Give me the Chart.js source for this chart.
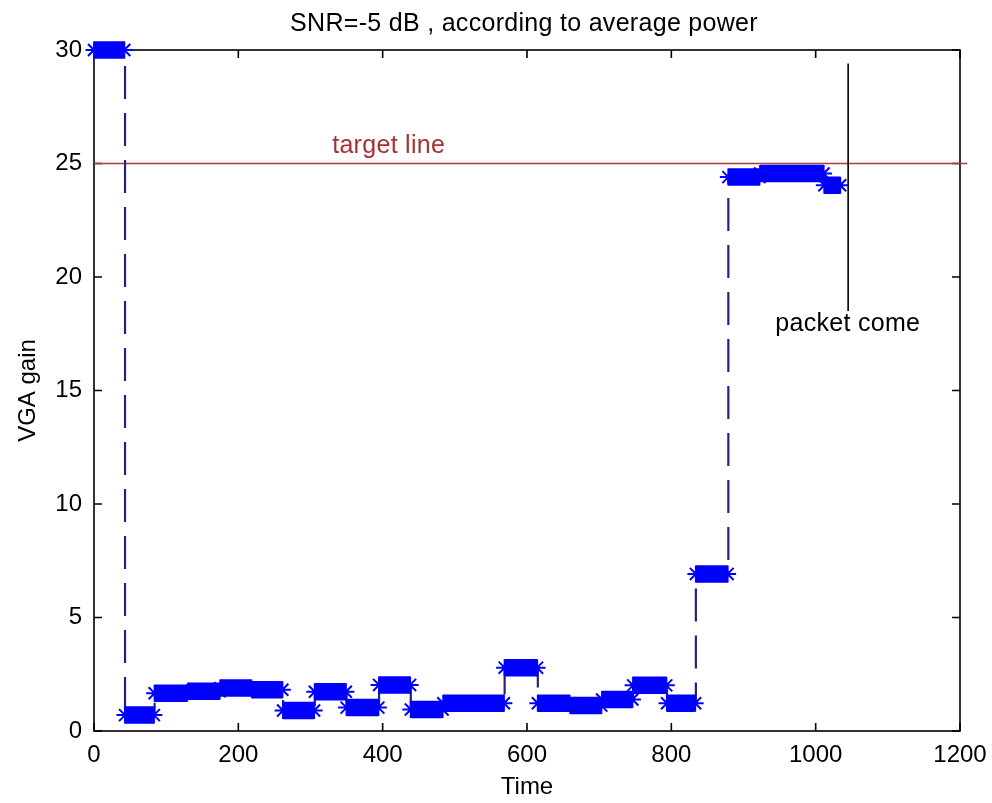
<!DOCTYPE html>
<html><head><meta charset="utf-8">
<script src="https://cdn.jsdelivr.net/npm/chart.js@4.4.1/dist/chart.umd.min.js"></script>
<style>html,body{margin:0;padding:0;background:#fff;}</style>
</head><body>
<canvas id="c" width="992" height="803" style="display:block;width:992px;height:803px"></canvas>
<script>
// ---- data ----
const stepStart = [0, 43, 84, 130, 175, 219, 262, 306, 350, 395, 439, 484, 569, 615, 660, 704, 747, 794, 834, 879, 923, 1012];
const stepEnd   = [42, 83, 129, 174, 218, 261, 305, 349, 394, 438, 483, 568, 614, 659, 703, 746, 793, 833, 878, 922, 1011, 1034];
const stepLevel = [30, 0.70, 1.66, 1.75, 1.89, 1.82, 0.90, 1.73, 1.03, 2.03, 0.95, 1.22, 2.79, 1.22, 1.12, 1.39, 2.01, 1.22, 6.92, 24.40, 24.56, 24.04];
const xTicks = [0, 200, 400, 600, 800, 1000, 1200];
const yTicks = [0, 5, 10, 15, 20, 25, 30];
const targetX = [0, 1210];
const targetLevel = 25;
const packetTime = 1045;
const packetSpan = [18.5, 29.4];
const titleText = 'SNR=-5 dB , according to average power';
const targetLabel = {text: 'target line', x: 330, y: 25.45};
const packetLabel = {text: 'packet come', x: 944, y: 17.6};

// ---- build datasets ----
const stepPts = stepStart.map((s, i) => ({x: s, y: stepLevel[i]}));
stepPts.push({x: stepEnd[stepEnd.length - 1], y: stepLevel[stepLevel.length - 1]});
const blockPts = [];
stepStart.forEach((s, i) => {
  blockPts.push({x: s, y: stepLevel[i]});
  blockPts.push({x: stepEnd[i], y: stepLevel[i]});
  blockPts.push({x: stepEnd[i] + 0.5, y: null});
});
const targetPts = targetX.map(v => ({x: v, y: targetLevel}));
const packetPts = packetSpan.map(v => ({x: packetTime, y: v}));

const FONT = '"Liberation Sans", Arial, sans-serif';

const decor = {
  id: 'decor',
  beforeDraw(chart) {
    const c = chart.ctx;
    c.save(); c.fillStyle = '#fff'; c.fillRect(0, 0, chart.width, chart.height); c.restore();
  },
  beforeDatasetsDraw(chart) {
    const c = chart.ctx, a = chart.chartArea, x = chart.scales.x, y = chart.scales.y;
    c.save();
    c.strokeStyle = '#000'; c.lineWidth = 1.6;
    c.strokeRect(a.left, a.top, a.right - a.left, a.bottom - a.top);
    c.beginPath();
    xTicks.forEach(v => {
      const p = x.getPixelForValue(v);
      c.moveTo(p, a.bottom); c.lineTo(p, a.bottom - 8);
      c.moveTo(p, a.top); c.lineTo(p, a.top + 8);
    });
    yTicks.forEach(v => {
      const p = y.getPixelForValue(v);
      c.moveTo(a.left, p); c.lineTo(a.left + 8, p);
      c.moveTo(a.right, p); c.lineTo(a.right - 8, p);
    });
    c.stroke();
    c.restore();
  },
  afterDatasetsDraw(chart) {
    const c = chart.ctx, a = chart.chartArea, x = chart.scales.x, y = chart.scales.y;
    c.save();
    c.textBaseline = 'alphabetic';
    c.font = '25px ' + FONT;
    c.letterSpacing = '0.3px';
    c.fillStyle = '#000'; c.textAlign = 'center';
    c.fillText(titleText, (a.left + a.right) / 2 - 3, 31);
    c.fillStyle = '#a83232'; c.textAlign = 'left';
    c.fillText(targetLabel.text, x.getPixelForValue(targetLabel.x), y.getPixelForValue(targetLabel.y));
    c.fillStyle = '#000';
    c.fillText(packetLabel.text, x.getPixelForValue(packetLabel.x), y.getPixelForValue(packetLabel.y));
    c.restore();
  }
};

new Chart(document.getElementById('c'), {
  type: 'line',
  data: {datasets: [
    {label: 'packet', data: packetPts, borderColor: '#000', borderWidth: 1.6, pointRadius: 0, order: 1},
    {label: 'blocks', data: blockPts, borderColor: '#0000ff', borderWidth: 17.5, borderCapStyle: 'butt',
     pointStyle: 'star', pointRadius: 8.5, pointBorderColor: '#0000ff', pointBackgroundColor: '#0000ff',
     pointBorderWidth: 2, spanGaps: false, order: 2, clip: false},
    {label: 'steps', data: stepPts, stepped: 'before', borderColor: '#24247e', borderWidth: 2.2,
     borderDash: [33, 14], pointRadius: 0, order: 3},
    {label: 'target', data: targetPts, borderColor: '#b03a3a', borderWidth: 1.6, pointRadius: 0, order: 4, clip: 10}
  ]},
  options: {
    responsive: false, animation: false, devicePixelRatio: 1,
    layout: {padding: {top: 50, right: 32, left: 0, bottom: 0}},
    plugins: {legend: {display: false}, tooltip: {enabled: false}, title: {display: false}},
    scales: {
      x: {type: 'linear', min: 0, max: 1200,
        afterFit(s) { s.height = 72; s.paddingLeft = 0; s.paddingRight = 0; },
        afterBuildTicks(s) { s.ticks = xTicks.map(v => ({value: v})); },
        grid: {display: false, drawTicks: false}, border: {display: false},
        ticks: {color: '#000', font: {family: FONT, size: 24}, padding: 10, maxRotation: 0, autoSkip: false,
                callback: v => String(v)},
        title: {display: true, text: 'Time', color: '#000', font: {family: FONT, size: 24}, padding: {top: 0, bottom: 1}}
      },
      y: {type: 'linear', min: 0, max: 30,
        afterFit(s) { s.width = 94; s.paddingTop = 0; s.paddingBottom = 0; },
        afterBuildTicks(s) { s.ticks = yTicks.map(v => ({value: v})); },
        grid: {display: false, drawTicks: false}, border: {display: false},
        ticks: {color: '#000', font: {family: FONT, size: 24}, padding: 12, autoSkip: false,
                callback: v => String(v)},
        title: {display: true, text: 'VGA gain', color: '#000', font: {family: FONT, size: 24}, padding: {top: 14, bottom: 0}}
      }
    }
  },
  plugins: [decor]
});
</script>
</body></html>
